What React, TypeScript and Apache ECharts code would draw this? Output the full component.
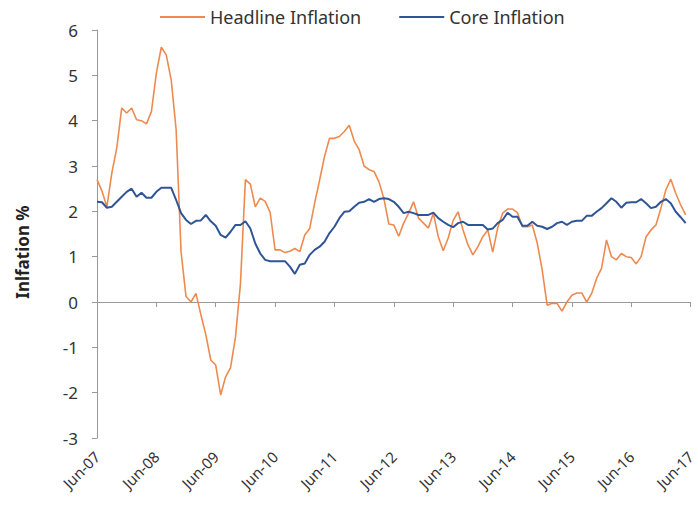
import React, { useEffect, useRef } from "react";
import * as echarts from "echarts";

const monthNames = ["Jan", "Feb", "Mar", "Apr", "May", "Jun", "Jul", "Aug", "Sep", "Oct", "Nov", "Dec"];
// Monthly categories Jun-07 .. Jun-17
const categories: string[] = [];
for (let i = 0; i <= 120; i++) {
  const mi = (5 + i) % 12;
  const yr = 7 + Math.floor((5 + i) / 12);
  categories.push(monthNames[mi] + "-" + String(yr).padStart(2, "0"));
}

const headline = [
  2.7, 2.45, 2.1, 2.85, 3.4, 4.28, 4.17, 4.28, 4.02, 4.0, 3.93, 4.2,
  5.05, 5.62, 5.45, 4.9, 3.8, 1.1, 0.12, 0.0, 0.19, -0.28, -0.72, -1.28,
  -1.39, -2.05, -1.65, -1.45, -0.77, 0.4, 2.7, 2.6, 2.1, 2.29, 2.22, 1.98,
  1.15, 1.15, 1.09, 1.12, 1.18, 1.11, 1.48, 1.62, 2.18, 2.69, 3.21, 3.61,
  3.61, 3.65, 3.76, 3.9, 3.55, 3.36, 3.0, 2.92, 2.88, 2.65, 2.28, 1.72,
  1.7, 1.45, 1.74, 1.96, 2.21, 1.85, 1.74, 1.63, 1.96, 1.44, 1.13, 1.41,
  1.8, 1.99, 1.59, 1.26, 1.04, 1.22, 1.44, 1.59, 1.1, 1.63, 1.96, 2.05,
  2.05, 1.97, 1.66, 1.66, 1.7, 1.3, 0.71, -0.07, -0.03, -0.03, -0.2, 0.0,
  0.15, 0.2, 0.2, 0.0, 0.19, 0.52, 0.74, 1.37, 1.0, 0.93, 1.07, 1.0,
  0.98, 0.84, 1.0, 1.44, 1.59, 1.7, 2.07, 2.47, 2.71, 2.4, 2.14, 1.92,
];

const core = [
  2.21, 2.2, 2.08, 2.1, 2.21, 2.32, 2.43, 2.5, 2.32, 2.41, 2.3, 2.3,
  2.43, 2.52, 2.52, 2.52, 2.25, 1.96, 1.81, 1.72, 1.79, 1.8, 1.92, 1.78,
  1.68, 1.48, 1.42, 1.55, 1.7, 1.7, 1.78, 1.62, 1.29, 1.07, 0.93, 0.9,
  0.9, 0.9, 0.9, 0.78, 0.62, 0.82, 0.85, 1.04, 1.15, 1.22, 1.33, 1.52,
  1.66, 1.85, 1.99, 2.0, 2.1, 2.19, 2.21, 2.27, 2.21, 2.27, 2.29, 2.27,
  2.21, 2.1, 1.96, 1.99, 1.96, 1.92, 1.92, 1.92, 1.97, 1.85, 1.77, 1.7,
  1.65, 1.74, 1.77, 1.7, 1.7, 1.7, 1.7, 1.6, 1.62, 1.74, 1.81, 1.97,
  1.88, 1.88, 1.68, 1.68, 1.77, 1.68, 1.66, 1.61, 1.66, 1.74, 1.77, 1.7,
  1.77, 1.79, 1.79, 1.9, 1.9, 1.99, 2.07, 2.18, 2.29, 2.21, 2.08, 2.19,
  2.2, 2.2, 2.27, 2.18, 2.07, 2.1, 2.21, 2.27, 2.18, 1.99, 1.87, 1.74,
];

const FONT = "'Noto Sans', 'Open Sans', sans-serif";
const ORANGE = "#ee8a4f";
const BLUE = "#2f5597";
const AXIS = "#999999";

export default function App() {
  const ref = useRef<HTMLDivElement>(null);
  useEffect(() => {
    if (!ref.current) return;
    const chart = echarts.init(ref.current, undefined, { renderer: "svg" });
    chart.setOption({
      animation: false,
      backgroundColor: "#ffffff",
      textStyle: { fontFamily: FONT },
      legend: {
        left: 155,
        top: 3,
        itemWidth: 45,
        itemHeight: 2,
        itemGap: 38,
        textStyle: { fontSize: 18, color: "#333", fontFamily: FONT },
        data: [
          { name: "Headline Inflation", icon: "rect" },
          { name: "Core Inflation", icon: "rect" },
        ],
      },
      grid: { left: 97, right: 5, top: 30, bottom: 79 },
      xAxis: [
        {
          type: "category",
          position: "bottom",
          data: categories,
          boundaryGap: false,
          axisLine: { show: false, onZero: false },
          axisTick: { show: false },
          axisLabel: {
            interval: 11,
            rotate: 45,
            margin: 16,
            fontSize: 15,
            color: "#333",
            fontFamily: FONT,
          },
        },
        {
          type: "category",
          position: "bottom",
          data: categories,
          boundaryGap: false,
          axisLine: { show: true, onZero: true, lineStyle: { color: AXIS, width: 1 } },
          axisTick: { show: true, interval: 11, length: 5, lineStyle: { color: AXIS } },
          axisLabel: { show: false },
        },
      ],
      yAxis: {
        type: "value",
        min: -3,
        max: 6,
        interval: 1,
        axisLine: { show: true, lineStyle: { color: AXIS } },
        axisTick: { show: true, length: 5, lineStyle: { color: AXIS } },
        splitLine: { show: false },
        axisLabel: { fontSize: 17, color: "#333", margin: 19, fontFamily: FONT },
      },
      graphic: [
        {
          type: "text",
          x: 22,
          y: 252,
          rotation: Math.PI / 2,
          style: {
            text: "Inlfation %",
            font: "bold 17px " + FONT,
            fill: "#222",
            textAlign: "center",
            textVerticalAlign: "middle",
          },
        },
      ],
      series: [
        {
          name: "Headline Inflation",
          type: "line",
          xAxisIndex: 0,
          data: headline,
          showSymbol: false,
          symbol: "none",
          lineStyle: { color: ORANGE, width: 1.6 },
          itemStyle: { color: ORANGE },
          z: 2,
        },
        {
          name: "Core Inflation",
          type: "line",
          xAxisIndex: 0,
          data: core,
          showSymbol: false,
          symbol: "none",
          lineStyle: { color: BLUE, width: 2 },
          itemStyle: { color: BLUE },
          z: 3,
        },
      ],
    });
    return () => chart.dispose();
  }, []);
  return (
    <div
      ref={ref}
      style={{ position: "absolute", left: 0, top: 0, width: 698, height: 517 }}
    />
  );
}
